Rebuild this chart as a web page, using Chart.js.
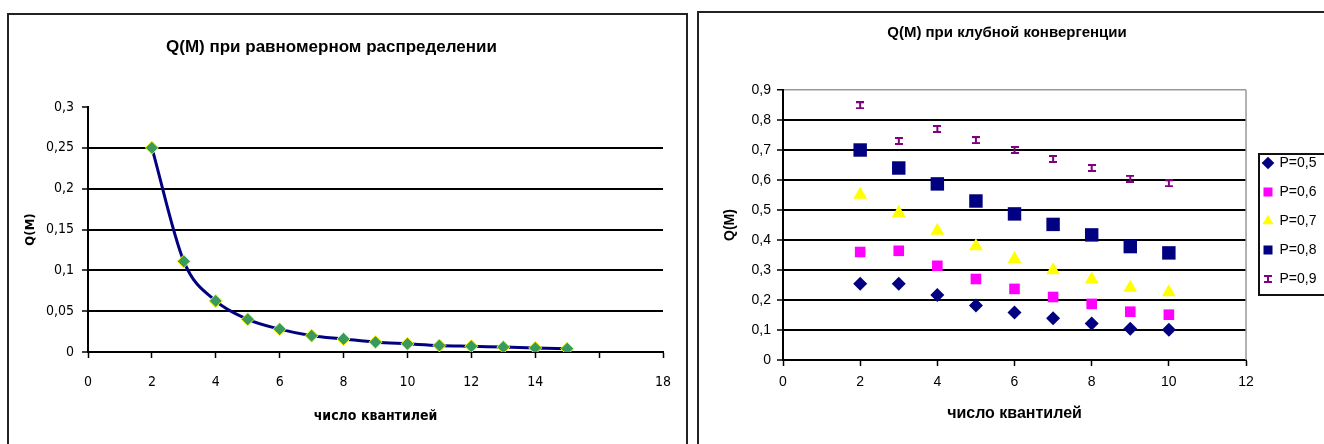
<!DOCTYPE html>
<html><head><meta charset="utf-8">
<script src="https://cdn.jsdelivr.net/npm/chart.js@4.4.1/dist/chart.umd.min.js"></script>
<style>
html,body{margin:0;padding:0;background:#fff;overflow:hidden;width:1324px;height:444px;}
.frame{position:absolute;border:2px solid #222;box-sizing:border-box;}
#f1{left:7px;top:13px;width:681px;height:500px;}
#f2{left:697px;top:11px;width:700px;height:500px;}
#c1{position:absolute;left:0;top:0;}
#c2{position:absolute;left:690px;top:0;}
</style></head><body>
<div class="frame" id="f1"></div>
<div class="frame" id="f2"></div>
<canvas id="c1" width="690" height="444"></canvas>
<canvas id="c2" width="634" height="444"></canvas>
<script>
// ---------- data: left chart ----------
const leftTitle = 'Q(M) при равномерном распределении';
const xAxisTitle = 'число квантилей';
const yAxisTitle = 'Q(M)';
const leftX = [2,3,4,5,6,7,8,9,10,11,12,13,14,15];
const leftQ = [0.25,0.111,0.0625,0.04,0.028,0.02,0.016,0.012,0.01,0.008,0.007,0.006,0.005,0.004];
const leftXTicks = ['0','2','4','6','8','10','12','14','','18'];
const leftYTicks = ['0','0,05','0,1','0,15','0,2','0,25','0,3'];

// ---------- data: right chart ----------
const rightTitle = 'Q(M) при клубной конвергенции';
const rightX = [2,3,4,5,6,7,8,9,10];
const seriesNames = ['P=0,5','P=0,6','P=0,7','P=0,8','P=0,9'];
const p05 = [0.254,0.254,0.217,0.182,0.158,0.139,0.122,0.104,0.101];
const p06 = [0.36,0.364,0.314,0.27,0.237,0.21,0.187,0.161,0.151];
const p07 = [0.551,0.49,0.431,0.379,0.337,0.299,0.268,0.241,0.226];
const p08 = [0.70,0.64,0.587,0.53,0.487,0.452,0.417,0.378,0.357];
const p09 = [0.849,0.73,0.77,0.733,0.70,0.67,0.64,0.604,0.589];
const rightXTicks = ['0','2','4','6','8','10','12'];
const rightYTicks = ['0','0,1','0,2','0,3','0,4','0,5','0,6','0,7','0,8','0,9'];

const FONT = "'Liberation Sans Narrow','DejaVu Sans Condensed','Liberation Sans',Arial,sans-serif";
const FONT2 = "'Liberation Sans',Arial,sans-serif";
Chart.defaults.color = '#000';
Chart.defaults.animation = false;

function pts(xs, ys){ return xs.map((x,i)=>({x:x, y:ys[i]})); }

// ---------- left chart ----------
new Chart(document.getElementById('c1'), {
  type: 'scatter',
  data: { datasets: [{
    label: yAxisTitle,
    data: pts(leftX, leftQ),
    showLine: true,
    cubicInterpolationMode: 'monotone',
    borderColor: '#000080', borderWidth: 3,
    pointStyle: 'rectRot', pointRadius: 6.5, pointHoverRadius: 6.5,
    pointBackgroundColor: '#379a5e', pointBorderColor: '#f5f500', pointBorderWidth: 1
  }]},
  options: {
    responsive: false,
    layout: { padding: { left: 0, right: 27, top: 0, bottom: 0 } },
    plugins: {
      legend: { display: false }, tooltip: { enabled: false },
      title: { display: true, text: leftTitle, color: '#000',
        font: { family: FONT2, size: 17, weight: 'bold', lineHeight: 1.2 },
        padding: { top: 37, bottom: 49.6 } }
    },
    scales: {
      x: { type: 'linear', min: 0, max: 18,
        ticks: { stepSize: 2, padding: 16, font: { family: FONT, size: 14 },
          callback: (v, i) => leftXTicks[i] },
        grid: { drawOnChartArea: false, tickLength: 6, tickColor: '#000', tickWidth: 1.5 },
        border: { color: '#000', width: 2 },
        title: { display: true, text: xAxisTitle, font: { family: FONT, size: 14, weight: 'bold', lineHeight: 1.2 }, padding: { bottom: 19.6, top: 0 } },
        afterFit: s => { s.height = 92; } },
      y: { min: 0, max: 0.3,
        ticks: { stepSize: 0.05, padding: 8, font: { family: FONT, size: 14 },
          callback: (v, i) => leftYTicks[i] },
        grid: { color: c => (c.tick && c.tick.value > 0.29) ? 'rgba(0,0,0,0)' : '#000', lineWidth: 2,
          tickLength: 6, tickColor: '#000', tickWidth: 1.5 },
        border: { color: '#000', width: 2 },
        title: { display: true, text: yAxisTitle, font: { family: FONT, size: 13, weight: 'bold', lineHeight: 1.2 }, padding: { top: 23, bottom: 0 } },
        afterFit: s => { s.width = 88; } }
    }
  }
});

// ---------- right chart ----------
function ibeam(){
  const c = document.createElement('canvas'); c.width = 8; c.height = 8;
  const g = c.getContext('2d'); g.fillStyle = '#800080';
  g.fillRect(0,0,8,2); g.fillRect(3,2,2,4); g.fillRect(0,6,8,2);
  return c;
}
const ib = ibeam();

const rightPlugin = {
  id: 'rightExtras',
  beforeLayout(chart){ if (chart.legend) chart.legend.afterFit = function(){ this.width = 92; }; },
  afterLayout(chart){
    const lg = chart.legend; if (!lg) return;
    lg.left = 558.5; lg.right = lg.left + 92; lg.top = 141; lg.bottom = lg.top + 160;
  },
  beforeDatasetsDraw(chart){
    const a = chart.chartArea, ctx = chart.ctx;
    ctx.save(); ctx.strokeStyle = '#999'; ctx.lineWidth = 1.5;
    ctx.beginPath(); ctx.moveTo(a.right, a.top); ctx.lineTo(a.right, a.bottom); ctx.stroke();
    ctx.restore();
  },
  afterDraw(chart){
    const ctx = chart.ctx; ctx.save(); ctx.strokeStyle = '#111'; ctx.lineWidth = 2;
    ctx.strokeRect(569, 154, 120, 141); ctx.restore();
  }
};

new Chart(document.getElementById('c2'), {
  type: 'scatter',
  data: { datasets: [
    { label: seriesNames[0], data: pts(rightX, p05), pointStyle: 'rectRot', pointRadius: 7,
      backgroundColor: '#000080', borderColor: '#000080', pointBorderWidth: 0 },
    { label: seriesNames[1], data: pts(rightX, p06), pointStyle: 'rect', pointRadius: 7.5,
      backgroundColor: '#ff00ff', borderColor: '#ff00ff', pointBorderWidth: 0 },
    { label: seriesNames[2], data: pts(rightX, p07), pointStyle: 'triangle', pointRadius: 8,
      backgroundColor: '#ffff00', borderColor: '#ffff00', pointBorderWidth: 0 },
    { label: seriesNames[3], data: pts(rightX, p08), pointStyle: 'rect', pointRadius: 9.5,
      backgroundColor: '#000080', borderColor: '#000080', pointBorderWidth: 0 },
    { label: seriesNames[4], data: pts(rightX, p09), pointStyle: ib, pointRadius: 4,
      backgroundColor: '#800080', borderColor: '#800080', pointBorderWidth: 0 }
  ]},
  options: {
    responsive: false,
    layout: { padding: { left: 0, right: 0, top: 0, bottom: 0 } },
    plugins: {
      tooltip: { enabled: false },
      title: { display: true, text: rightTitle, color: '#000',
        font: { family: FONT2, size: 15, weight: 'bold', lineHeight: 1.2 },
        padding: { top: 24, bottom: 48 } },
      legend: { position: 'right', align: 'start', fullSize: false,
        labels: { usePointStyle: true, boxWidth: 9, boxHeight: 9, padding: 15, color: '#000',
          font: { family: FONT2, size: 14 } } }
    },
    scales: {
      x: { type: 'linear', min: 0, max: 12,
        ticks: { stepSize: 2, padding: 8, font: { family: FONT2, size: 14 },
          callback: (v, i) => rightXTicks[i] },
        grid: { drawOnChartArea: false, tickLength: 6, tickColor: '#000', tickWidth: 1.5 },
        border: { color: '#000', width: 2 },
        title: { display: true, text: xAxisTitle, font: { family: FONT2, size: 16, weight: 'bold', lineHeight: 1.2 }, padding: { bottom: 20.4, top: 0 } },
        afterFit: s => { s.height = 84; } },
      y: { min: 0, max: 0.9,
        ticks: { stepSize: 0.1, padding: 6, font: { family: FONT2, size: 14 },
          callback: (v, i) => rightYTicks[i] },
        grid: { color: c => (c.tick && c.tick.value > 0.89) ? '#999' : '#000',
          lineWidth: c => (c.tick && c.tick.value > 0.89) ? 1.5 : 2,
          tickLength: 6, tickColor: '#000', tickWidth: 1.5 },
        border: { color: '#000', width: 2 },
        title: { display: true, text: yAxisTitle, font: { family: FONT2, size: 14, weight: 'bold', lineHeight: 1.2 }, padding: { top: 31.6, bottom: 0 } },
        afterFit: s => { s.width = 93; } }
    }
  },
  plugins: [rightPlugin]
});
</script>
</body></html>
